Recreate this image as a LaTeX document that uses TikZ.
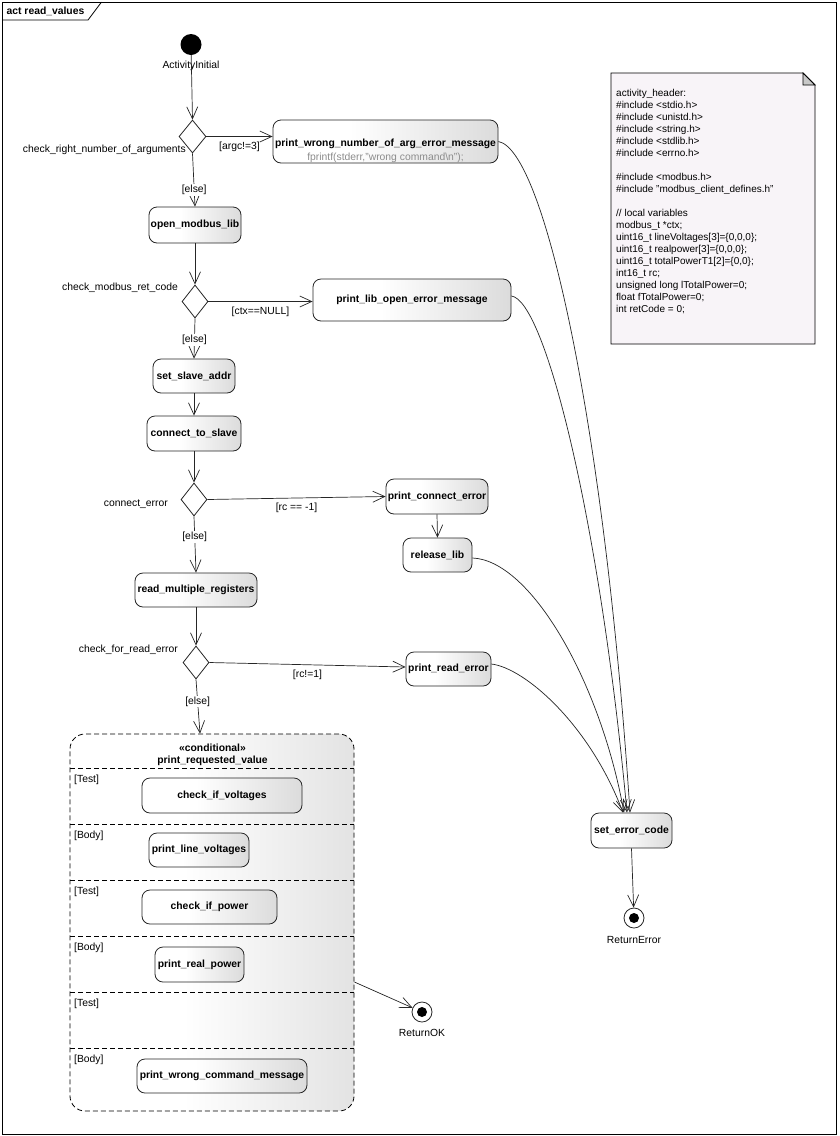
\documentclass[tikz,border=0pt]{standalone}
\usepackage{fontspec}
\setmainfont{Liberation Sans}
\usetikzlibrary{arrows.meta,shapes.geometric}
\pgfdeclarehorizontalshading{actsh}{100bp}{color(0bp)=(white); color(25bp)=(white); color(42bp)=(white); color(75bp)=(black!14); color(100bp)=(black!14)}
\pgfdeclarehorizontalshading{condsh}{100bp}{color(0bp)=(white); color(25bp)=(white); color(45bp)=(white); color(75bp)=(black!11); color(100bp)=(black!11)}
\definecolor{notefill}{RGB}{248,244,248}
\definecolor{foldgray}{RGB}{200,200,200}
\begin{document}
\begin{tikzpicture}[x=1pt,y=-1pt,
  font=\fontsize{10.35}{12}\selectfont,
  act/.style={draw=black!85, line width=0.8pt, rounded corners=8pt, shade, shading=actsh, inner sep=0pt, font=\fontsize{10.35}{12}\selectfont\bfseries},
  dec/.style={diamond, draw=black!85, line width=0.8pt, fill=white, inner sep=0pt},
  arr/.style={draw=black!85, line width=0.7pt, -{Straight Barb[length=12pt,width=11pt]}},
  lbl/.style={inner sep=0pt},
  guard/.style={inner sep=1pt, fill=white},
  final/.style={circle, draw=black!85, line width=0.8pt, fill=white, minimum size=20pt, inner sep=0pt},
  dot/.style={circle, fill=black, minimum size=10pt, inner sep=0pt},
  sep/.style={draw=black, line width=0.8pt, dash pattern=on 5pt off 3pt}
]
\useasboundingbox (0,0) rectangle (840,1136);
% frame
\draw[line width=0.8pt, fill=white] (2,2) rectangle (836,1134);
\draw[line width=0.8pt] (2,20) -- (88,20) -- (101.5,2);
\node[lbl, font=\fontsize{10.35}{12}\selectfont\bfseries] (frame) at (45.5,11) {act read\_values};

% note
\draw[line width=0.8pt, fill=notefill] (611,73) -- (803,73) -- (815,85) -- (815,344) -- (611,344) -- cycle;
\draw[line width=0.8pt, fill=foldgray] (803,73) -- (803,85) -- (815,85) -- cycle;
\node[lbl, anchor=north west, align=left, font=\fontsize{10}{12}\selectfont] (note) at (616,89) {activity\_header:\\
\#include <stdio.h>\\
\#include <unistd.h>\\
\#include <string.h>\\
\#include <stdlib.h>\\
\#include <errno.h>\\[12pt]
\#include <modbus.h>\\
\#include "modbus\_client\_defines.h"\\[12pt]
// local variables\\
modbus\_t *ctx;\\
uint16\_t lineVoltages[3]=\{0,0,0\};\\
uint16\_t realpower[3]=\{0,0,0\};\\
uint16\_t totalPowerT1[2]=\{0,0\};\\
int16\_t rc;\\
unsigned long lTotalPower=0;\\
float fTotalPower=0;\\
int retCode = 0;};

% initial
\node[circle, fill=black, minimum size=21pt, inner sep=0pt] (init) at (191,44.5) {};
\node[lbl] (initlbl) at (191,66) {ActivityInitial};

% decisions
\node[dec, minimum width=27pt, minimum height=33pt] (d1) at (192.5,136.5) {};
\node[lbl, anchor=east] (d1lbl) at (186,150) {check\_right\_number\_of\_arguments};
\node[dec, minimum width=26pt, minimum height=33pt] (d2) at (195,301.5) {};
\node[lbl, anchor=east] (d2lbl) at (178,288) {check\_modbus\_ret\_code};
\node[dec, minimum width=26pt, minimum height=33pt] (d3) at (194,499.5) {};
\node[lbl, anchor=east] (d3lbl) at (168,504) {connect\_error};
\node[dec, minimum width=26pt, minimum height=33pt] (d4) at (196,662.5) {};
\node[lbl, anchor=east] (d4lbl) at (178,650) {check\_for\_read\_error};

% actions
\node[act, minimum width=225pt, minimum height=43pt, text height=12.5pt, text depth=2.1pt,
  label={[lbl, font=\fontsize{10.35}{12}\selectfont, text=black!45, anchor=center, yshift=6pt]south:fprintf(stderr,"wrong command\textbackslash n");}]
  (pw) at (385.5,141.5) {print\_wrong\_number\_of\_arg\_error\_message};
\node[act, minimum width=92pt, minimum height=36pt] (oml) at (195,225) {open\_modbus\_lib};
\node[act, minimum width=198pt, minimum height=42pt] (plib) at (412,300) {print\_lib\_open\_error\_message};
\node[act, minimum width=82pt, minimum height=34pt] (ssa) at (194,376) {set\_slave\_addr};
\node[act, minimum width=94pt, minimum height=35pt] (cts) at (194,433.5) {connect\_to\_slave};
\node[act, minimum width=102pt, minimum height=35pt] (pce) at (437,496.5) {print\_connect\_error};
\node[act, minimum width=69pt, minimum height=34pt] (rel) at (437.5,555) {release\_lib};
\node[act, minimum width=122pt, minimum height=34pt] (rmr) at (196,590) {read\_multiple\_registers};
\node[act, minimum width=85pt, minimum height=34pt] (pre) at (448.5,669) {print\_read\_error};
\node[act, minimum width=81pt, minimum height=35pt] (sec) at (631.5,830.5) {set\_error\_code};

% conditional node
\node[draw=black, line width=0.8pt, dash pattern=on 5pt off 3pt, rounded corners=15pt, shade, shading=condsh, minimum width=284pt, minimum height=377pt, inner sep=0pt] (cond) at (212,922.5) {};
\node[lbl, font=\fontsize{10.35}{12}\selectfont\bfseries, align=center] (condlbl) at (212.5,754.5) {«conditional»\\print\_requested\_value};
\foreach \yy in {768,824,880,936,992,1048} \draw[sep] (70,\yy) -- (354,\yy);
\node[lbl, anchor=west] (t1) at (74,780) {[Test]};
\node[lbl, anchor=west] (b1) at (74,836) {[Body]};
\node[lbl, anchor=west] (t2) at (74,892) {[Test]};
\node[lbl, anchor=west] (b2) at (74,948) {[Body]};
\node[lbl, anchor=west] (t3) at (74,1004) {[Test]};
\node[lbl, anchor=west] (b3) at (74,1060) {[Body]};
\node[act, minimum width=160pt, minimum height=35pt] (civ) at (222,795.5) {check\_if\_voltages};
\node[act, minimum width=100pt, minimum height=34pt] (plv) at (199,850) {print\_line\_voltages};
\node[act, minimum width=135pt, minimum height=34pt] (cip) at (209.5,907) {check\_if\_power};
\node[act, minimum width=89pt, minimum height=35pt] (prp) at (199.5,964.5) {print\_real\_power};
\node[act, minimum width=170pt, minimum height=34pt] (pwcm) at (222,1076) {print\_wrong\_command\_message};

% finals
\node[final] (rok) at (422,1012) {};
\node[dot] (rokdot) at (rok) {};
\node[lbl] (roklbl) at (422,1033) {ReturnOK};
\node[final] (rerr) at (634,918) {};
\node[dot] (rerrdot) at (rerr) {};
\node[lbl] (rerrlbl) at (634,940) {ReturnError};

% flows
\draw[arr] (init) -- (d1.north);
\draw[arr] (d1.east) -- node[lbl, yshift=-10.5pt] (g1) {[argc!=3]} (pw.west |- d1.east);
\draw[arr] (d1.south) -- node[guard, pos=0.685] (e1) {[else]} (oml.north);
\draw[arr] (oml.south) -- (d2.north);
\draw[arr] (d2.east) -- node[lbl, yshift=-10pt] (g2) {[ctx==NULL]} (plib.west |- d2.east);
\draw[arr] (d2.south) -- node[guard, pos=0.54] (e2) {[else]} (ssa.north);
\draw[arr] (ssa.south) -- (cts.north);
\draw[arr] (cts.south) -- (d3.north);
\draw[arr] (d3.east) -- node[lbl, yshift=-10pt] (g3) {[rc == -1]} (pce.west);
\draw[arr] (pce.south) -- (rel.north);
\draw[arr] (d3.south) -- node[guard, pos=0.37] (e3) {[else]} (rmr.north);
\draw[arr] (rmr.south) -- (d4.north);
\draw[arr] (d4.east) -- node[lbl, yshift=-10pt] (g4) {[rc!=1]} ([yshift=2pt]pre.west);
\draw[arr] (d4.south) -- node[guard, pos=0.41] (e4) {[else]} ([xshift=-12pt]cond.north);
\draw[arr] ([yshift=-59.5pt]cond.east) -- (rok);
\draw[arr] (sec.south) -- (rerr);

% error curves
\draw[arr] (pw.east) .. controls (545,150) and (605,430) .. ([xshift=-1.5pt]sec.north);
\draw[arr] ([yshift=4pt]plib.east) .. controls (545,300) and (600,520) .. ([xshift=-4.5pt]sec.north);
\draw[arr] ([yshift=-3pt]rel.east) .. controls (530,560) and (600,680) .. ([xshift=-7.5pt]sec.north);
\draw[arr] ([yshift=5pt]pre.east) .. controls (525,668) and (590,725) .. ([xshift=-8.5pt]sec.north);
\end{tikzpicture}
\end{document}
